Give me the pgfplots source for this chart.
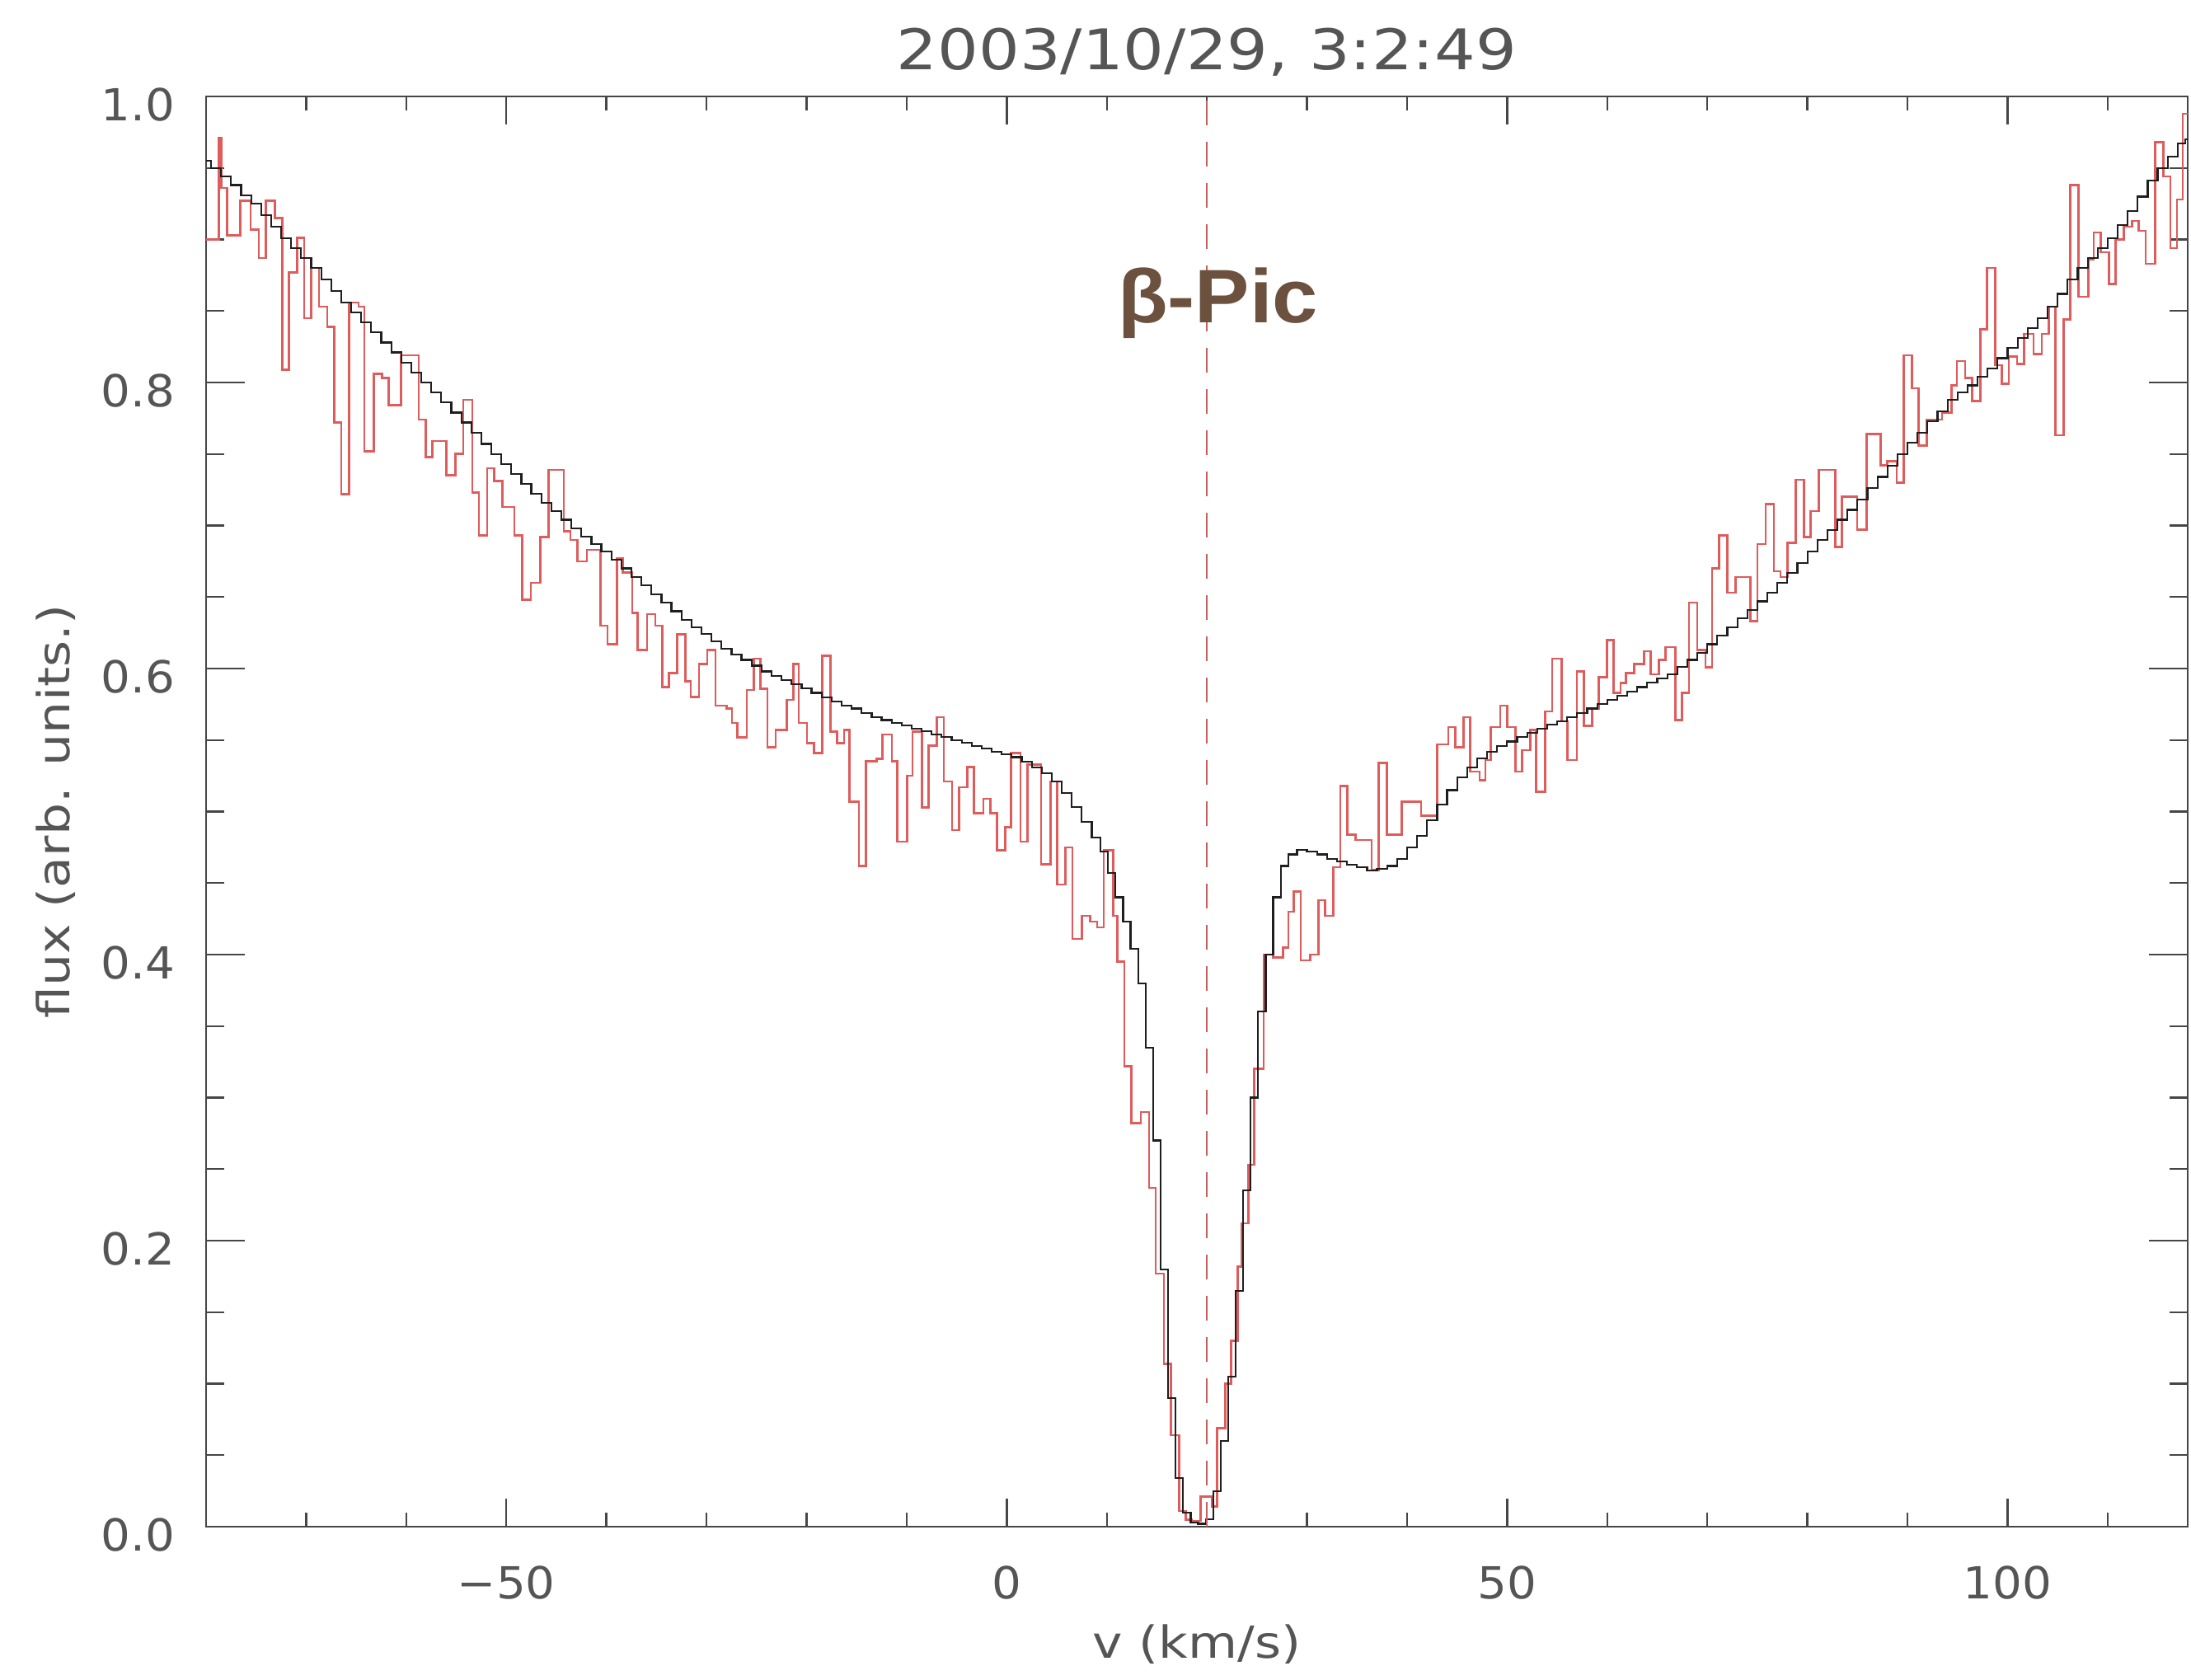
\documentclass[border=0pt]{standalone}
\usepackage{pgfplots}
\pgfplotsset{compat=1.18}
\usetikzlibrary{calc}
\usepackage{fontspec}
\setmainfont{DejaVu Sans}[FakeStretch=1.15]
\newfontfamily\tickfont{DejaVu Sans}[FakeStretch=1.05]
\newfontfamily\labfont{Liberation Sans}[FakeStretch=1.08]

\definecolor{axgray}{RGB}{70,70,70}
\definecolor{txtgray}{RGB}{85,85,85}
\definecolor{obsred}{RGB}{222,92,92}
\definecolor{dashred}{RGB}{200,95,95}
\definecolor{picbrown}{RGB}{107,81,62}
\definecolor{model}{RGB}{30,30,30}

\begin{document}
\begin{tikzpicture}
\begin{axis}[scale only axis,width=601pt,height=433.75pt,
  xmin=-80,xmax=118,ymin=0,ymax=1,
  axis line style={axgray,line width=0.6pt},
  tick style={axgray,line width=0.6pt},
  xtick={-50,0,50,100},xticklabels={−50,0,50,100},
  minor xtick={-70,-60,-40,-30,-20,-10,10,20,30,40,60,70,80,90,110},
  ytick={0,0.2,0.4,0.6,0.8,1.0},yticklabels={0.0,0.2,0.4,0.6,0.8,1.0},
  minor ytick={0.05,0.1,0.15,0.25,0.3,0.35,0.45,0.5,0.55,0.65,0.7,0.75,0.85,0.9,0.95},
  xtick style={/pgfplots/major tick length=8.5pt,/pgfplots/minor tick length=4.25pt},
  ytick style={/pgfplots/major tick length=11.7pt,/pgfplots/minor tick length=5.6pt},
  ticklabel style={font=\tickfont\fontsize{13.4}{16}\selectfont,text=txtgray},
  xticklabel style={yshift=-8.5pt},
  yticklabel style={xshift=-6pt,yshift=-2.5pt},
  xlabel={v (km/s)},ylabel={flux (arb. units.)},
  label style={font=\fontsize{13.4}{16}\selectfont,text=txtgray},
  xlabel style={at={(axis description cs:0.5,0)},anchor=center,yshift=-35.75pt},
  ylabel style={at={(axis description cs:0,0.5)},anchor=center,yshift=45.5pt},
  title={2003/10/29, 3:2:49},
  title style={font=\fontsize{17}{20}\selectfont,text=txtgray,at={(axis description cs:0.5,1)},anchor=center,yshift=7.5pt,xshift=3pt},
]
% observed spectrum (step edges)
\addplot[const plot mark left,obsred,line width=0.65pt] coordinates {
(-80,0.900)(-78.7,0.971)(-78.5,0.936)(-77.9,0.903)(-76.6,0.927)(-75.55,0.907)
(-74.73,0.887)(-74.05,0.927)(-73.1,0.915)(-72.4,0.809)(-71.7,0.877)(-70.9,0.901)
(-70.2,0.845)(-69.5,0.880)(-68.7,0.853)(-67.9,0.839)(-67.2,0.772)(-66.5,0.722)
(-65.7,0.856)(-64.76,0.853)(-64.2,0.752)(-63.25,0.806)(-62.4,0.803)(-61.75,0.784)
(-60.5,0.819)(-58.75,0.774)(-58.07,0.748)(-57.4,0.759)(-56.0,0.735)(-55.1,0.750)
(-54.3,0.788)(-53.4,0.723)(-52.74,0.693)(-51.9,0.740)(-51.2,0.731)(-50.4,0.713)
(-49.2,0.693)(-48.4,0.648)(-47.55,0.660)(-46.6,0.692)(-45.77,0.739)(-44.26,0.696)
(-43.58,0.690)(-42.9,0.675)(-41.94,0.683)(-40.58,0.630)(-39.89,0.617)(-38.94,0.677)
(-38.39,0.667)(-37.43,0.639)(-36.89,0.613)(-35.93,0.638)(-35.11,0.630)(-34.43,0.587)
(-33.75,0.597)(-32.93,0.624)(-32.1,0.591)(-31.56,0.580)(-30.74,0.603)(-29.92,0.613)
(-29.1,0.574)(-28.01,0.572)(-27.46,0.562)(-26.91,0.552)(-25.96,0.585)(-25.27,0.607)
(-24.59,0.586)(-23.91,0.545)(-23.09,0.557)(-22.0,0.578)(-21.31,0.603)(-20.77,0.562)
(-19.95,0.548)(-19.26,0.541)(-18.45,0.609)(-17.62,0.556)(-16.94,0.548)(-16.26,0.557)
(-15.71,0.507)(-14.76,0.462)(-14.07,0.535)(-12.98,0.537)(-12.43,0.554)(-11.47,0.535)
(-10.93,0.479)(-9.97,0.525)(-9.43,0.556)(-8.47,0.503)(-7.79,0.546)(-6.97,0.566)
(-6.28,0.521)(-5.46,0.487)(-4.78,0.517)(-3.96,0.531)(-3.28,0.499)(-2.32,0.509)
(-1.64,0.499)(-0.96,0.473)(-0.14,0.489)(0.41,0.541)(1.37,0.479)(2.05,0.533)
(3.42,0.463)(4.37,0.521)(5.06,0.449)(5.88,0.475)(6.56,0.411)(7.51,0.427)
(8.33,0.423)(9.02,0.419)(9.7,0.473)(10.66,0.427)(11.07,0.395)(11.75,0.322)
(12.43,0.282)(13.39,0.290)(14.21,0.237)(14.89,0.177)(15.71,0.114)(16.39,0.064)
(17.21,0.011)(17.9,0.005)(18.44,0.004)(19.39,0.021)(20.49,0.014)(21.03,0.069)
(21.85,0.100)(22.4,0.130)(23.08,0.182)(23.49,0.212)(24.17,0.253)(24.72,0.320)
(25.68,0.400)(26.63,0.398)(27.59,0.405)(28.14,0.430)(28.68,0.444)(29.37,0.396)
(30.32,0.400)(31.14,0.438)(31.82,0.427)(32.64,0.461)(33.33,0.518)(34.01,0.484)
(34.83,0.480)(36.47,0.459)(37.15,0.534)(37.97,0.484)(39.48,0.507)(41.39,0.497)
(43.03,0.547)(44.12,0.559)(44.8,0.545)(45.62,0.566)(46.31,0.528)(47.26,0.522)
(47.81,0.536)(48.36,0.559)(49.31,0.574)(49.99,0.559)(50.81,0.528)(51.5,0.543)
(52.32,0.557)(52.87,0.514)(53.82,0.570)(54.51,0.607)(55.46,0.563)(56.01,0.536)
(56.96,0.598)(57.65,0.560)(58.47,0.572)(59.15,0.594)(59.97,0.620)(60.65,0.583)
(61.34,0.590)(61.88,0.597)(62.7,0.603)(63.66,0.612)(64.34,0.596)(65.16,0.606)
(65.84,0.615)(66.8,0.564)(67.48,0.583)(68.17,0.646)(68.99,0.613)(69.81,0.601)
(70.49,0.670)(71.17,0.693)(71.99,0.653)(72.81,0.664)(74.31,0.633)(75.0,0.687)
(75.82,0.715)(76.64,0.668)(77.32,0.664)(78.0,0.688)(78.82,0.732)(79.64,0.692)
(80.32,0.710)(81.14,0.739)(82.78,0.685)(83.47,0.720)(84.97,0.697)(85.93,0.764)
(87.3,0.742)(87.98,0.745)(88.93,0.730)(89.62,0.819)(90.44,0.796)(91.12,0.756)
(91.94,0.774)(93.44,0.779)(94.4,0.798)(94.95,0.815)(95.77,0.803)(96.45,0.787)
(97.27,0.837)(97.95,0.880)(98.77,0.812)(99.45,0.799)(100.14,0.818)(100.96,0.813)
(101.64,0.834)(102.6,0.820)(103.42,0.834)(104.1,0.853)(104.78,0.763)(105.6,0.844)
(106.28,0.938)(107.1,0.860)(108.06,0.886)(108.6,0.905)(109.29,0.891)(110.11,0.869)
(110.79,0.900)(111.61,0.909)(112.43,0.913)(113.11,0.906)(113.8,0.883)(114.75,0.968)
(115.57,0.944)(116.26,0.894)(116.94,0.928)(117.49,0.988)(118,0.988)
};
% model profile (bin centres)
\addplot[const plot mark mid,model,line width=0.55pt] coordinates {
(-80,0.955)(-79,0.950)(-78,0.944)(-77,0.938)(-76,0.931)(-75,0.925)(-74,0.917)
(-73,0.909)(-72,0.901)(-71,0.894)(-70,0.887)(-69,0.880)(-68,0.872)(-67,0.864)
(-66,0.856)(-65,0.849)(-64,0.842)(-63,0.835)(-62,0.828)(-61,0.821)(-60,0.814)
(-59,0.807)(-58,0.800)(-57,0.793)(-56,0.786)(-55,0.779)(-54,0.772)(-53,0.765)
(-52,0.757)(-51,0.750)(-50,0.743)(-49,0.736)(-48,0.729)(-47,0.722)(-46,0.716)
(-45,0.710)(-44,0.704)(-43,0.698)(-42,0.692)(-41,0.687)(-40,0.682)(-39,0.676)
(-38,0.670)(-37,0.664)(-36,0.658)(-35,0.652)(-34,0.646)(-33,0.640)(-32,0.634)
(-31,0.629)(-30,0.624)(-29,0.619)(-28,0.614)(-27,0.610)(-26,0.606)(-25,0.602)
(-24,0.598)(-23,0.595)(-22,0.592)(-21,0.589)(-20,0.586)(-19,0.583)(-18,0.580)
(-17,0.577)(-16,0.574)(-15,0.572)(-14,0.569)(-13,0.566)(-12,0.564)(-11,0.562)
(-10,0.560)(-9,0.558)(-8,0.556)(-7,0.554)(-6,0.552)(-5,0.550)(-4,0.548)
(-3,0.546)(-2,0.544)(-1,0.542)(0,0.540)(1,0.538)(2,0.535)(3,0.531)(4,0.527)
(5,0.521)(6,0.513)(7,0.503)(8,0.493)(9,0.482)(9.75,0.472)(10.5,0.457)
(11.25,0.440)(12.0,0.423)(12.75,0.404)(13.5,0.380)(14.25,0.335)(15.0,0.270)
(15.75,0.180)(16.5,0.090)(17.25,0.034)(18.0,0.010)(18.75,0.003)(19.5,0.002)
(20.25,0.005)(21.0,0.025)(21.75,0.060)(22.5,0.105)(23.25,0.165)(24.0,0.235)
(24.75,0.300)(25.5,0.360)(26.25,0.400)(27.0,0.440)(27.75,0.462)(28.5,0.470)
(29.5,0.473)(30.5,0.472)(31.5,0.470)(32.5,0.467)(33.5,0.465)(34.5,0.463)
(35.5,0.461)(36.5,0.459)(37.5,0.460)(38.5,0.462)(39.5,0.467)(40.5,0.475)
(41.5,0.483)(42.5,0.494)(43.5,0.505)(44.5,0.515)(45.5,0.524)(46.5,0.531)
(47.5,0.537)(48.5,0.542)(49.5,0.546)(50.5,0.549)(51.5,0.552)(52.5,0.555)
(53.5,0.558)(54.5,0.561)(55.5,0.563)(56.5,0.566)(57.5,0.569)(58.5,0.572)
(59.5,0.575)(60.5,0.578)(61.5,0.581)(62.5,0.584)(63.5,0.587)(64.5,0.590)
(65.5,0.593)(66.5,0.596)(67.5,0.601)(68.5,0.606)(69.5,0.611)(70.5,0.617)
(71.5,0.623)(72.5,0.629)(73.5,0.635)(74.5,0.641)(75.5,0.647)(76.5,0.653)
(77.5,0.660)(78.5,0.667)(79.5,0.674)(80.5,0.682)(81.5,0.690)(82.5,0.697)
(83.5,0.704)(84.5,0.711)(85.5,0.718)(86.5,0.726)(87.5,0.734)(88.5,0.742)
(89.5,0.750)(90.5,0.758)(91.5,0.765)(92.5,0.773)(93.5,0.780)(94.5,0.788)
(95.5,0.793)(96.5,0.798)(97.5,0.804)(98.5,0.810)(99.5,0.817)(100.5,0.824)
(101.5,0.831)(102.5,0.838)(103.5,0.845)(104.5,0.853)(105.5,0.862)(106.5,0.872)
(107.5,0.880)(108.5,0.887)(109.5,0.894)(110.5,0.901)(111.5,0.910)(112.5,0.920)
(113.5,0.930)(114.5,0.941)(115.5,0.950)(116.5,0.958)(117.5,0.967)(118,0.970)
};
% rest velocity of beta Pic
\addplot[dashred,line width=0.6pt,dash pattern=on 7.5pt off 5pt] coordinates {(20,0)(20,1)};
\node[anchor=base,text=picbrown,font=\labfont\bfseries\fontsize{23}{27}\selectfont] at (axis cs:21.1,0.842) {β-Pic};
\coordinate (sw) at (rel axis cs:0,0);
\coordinate (ne) at (rel axis cs:1,1);
\end{axis}
\pgfresetboundingbox
\path[use as bounding box] ($(sw)+(-62.5pt,-46.25pt)$) rectangle ($(ne)+(1pt,29.25pt)$);
\end{tikzpicture}
\end{document}
